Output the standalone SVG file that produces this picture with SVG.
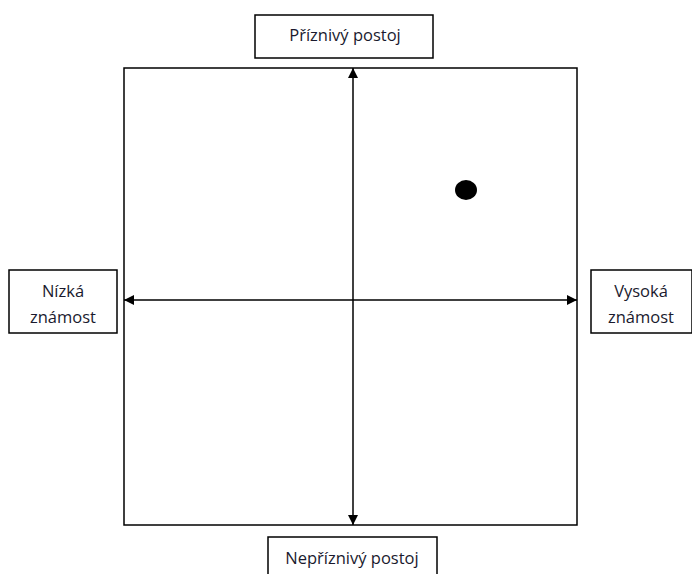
<svg xmlns="http://www.w3.org/2000/svg" width="692" height="574" viewBox="0 0 692 574">
<defs>
<style>
.box{fill:#fff;stroke:#000;stroke-width:1.5}
.frame{fill:none;stroke:#000;stroke-width:1.5}
.ln{stroke:#000;stroke-width:1.5;fill:none}
text{font-family:"Open Sans","Liberation Sans",sans-serif;font-size:16.5px;fill:#1a1a2e;text-anchor:middle}
</style>
<marker id="ah" viewBox="0 0 10 10" refX="10" refY="5" markerWidth="10" markerHeight="10" markerUnits="userSpaceOnUse" orient="auto-start-reverse">
<path d="M0,0 L10,5 L0,10 Z" fill="#000"/>
</marker>
</defs>
<rect x="124" y="68" width="453" height="457" class="frame"/>
<g id="connectors">
<line x1="353" y1="68" x2="353" y2="525" class="ln" marker-start="url(#ah)" marker-end="url(#ah)"/>
<line x1="124" y1="300" x2="577" y2="300" class="ln" marker-start="url(#ah)" marker-end="url(#ah)"/>
</g>
<g id="top"><rect x="255" y="15" width="178" height="43" class="box"/><text x="345" y="41">Příznivý postoj</text></g>
<g id="left"><rect x="9" y="270" width="108" height="63" class="box"/><text x="63" y="297">Nízká</text><text x="63" y="323">známost</text></g>
<g id="right"><rect x="591" y="270" width="101" height="63" class="box"/><text x="641" y="297">Vysoká</text><text x="641" y="323">známost</text></g>
<g id="bottom"><rect x="268" y="537" width="169" height="45" class="box"/><text x="352" y="564">Nepříznivý postoj</text></g>
<g id="dot"><ellipse cx="466" cy="190" rx="11" ry="10" fill="#000"/></g>
</svg>
